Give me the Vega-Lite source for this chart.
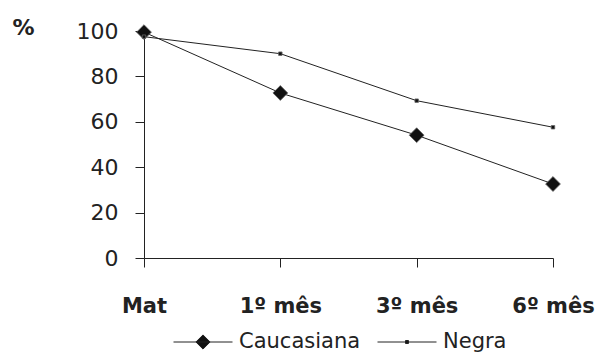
{
  "$schema": "https://vega.github.io/schema/vega-lite/v6.json",
  "width": 409,
  "height": 227,
  "autosize": {"type": "none"},
  "padding": {"left": 144, "top": 31, "right": 45, "bottom": 95},
  "background": "white",
  "config": {
    "view": {"stroke": null},
    "font": "DejaVu Sans",
    "axis": {"grid": false, "domainColor": "#222", "tickColor": "#222", "labelColor": "#222", "tickSize": 9, "domainWidth": 1, "tickWidth": 1}
  },
  "data": {
    "values": [
      {"period": "Mat", "series": "Caucasiana", "value": 99.5},
      {"period": "1º mês", "series": "Caucasiana", "value": 72.7},
      {"period": "3º mês", "series": "Caucasiana", "value": 54.1},
      {"period": "6º mês", "series": "Caucasiana", "value": 32.6},
      {"period": "Mat", "series": "Negra", "value": 97.5},
      {"period": "1º mês", "series": "Negra", "value": 90.0},
      {"period": "3º mês", "series": "Negra", "value": 69.3},
      {"period": "6º mês", "series": "Negra", "value": 57.6}
    ]
  },
  "encoding": {
    "x": {
      "field": "period", "type": "ordinal",
      "sort": ["Mat", "1º mês", "3º mês", "6º mês"],
      "scale": {"type": "point", "padding": 0},
      "axis": {"title": null, "labelAngle": 0, "labelFontSize": 21, "labelFontWeight": "bold", "labelPadding": 28}
    },
    "y": {
      "field": "value", "type": "quantitative",
      "scale": {"domain": [0, 100], "nice": false},
      "axis": {
        "values": [0, 20, 40, 60, 80, 100], "labelFontSize": 22, "labelPadding": 17,
        "title": "%", "titleAngle": 0, "titleX": -121, "titleY": -4,
        "titleFontSize": 22, "titleFontWeight": "bold", "titleAlign": "center", "titleBaseline": "middle", "titleColor": "#222"
      }
    }
  },
  "layer": [
    {
      "mark": {"type": "line", "strokeWidth": 1},
      "encoding": {
        "color": {
          "field": "series", "type": "nominal",
          "scale": {"domain": ["Caucasiana", "Negra"], "range": ["#222", "#222"]},
          "legend": {
            "orient": "none", "direction": "horizontal", "title": null,
            "legendX": 29, "legendY": 281,
            "labelFontSize": 21, "labelColor": "#222", "labelOffset": 6, "columnPadding": 14,
            "symbolSize": 3481,
            "encode": {
              "symbols": {
                "update": {
                  "shape": {"signal": "datum.value === 'Caucasiana' ? 'M-1,0H1M0,-0.24L0.24,0L0,0.24L-0.24,0Z' : 'M-1,0H1M-0.05,-0.05H0.05V0.05H-0.05Z'"},
                  "size": {"value": 3481},
                  "fill": {"value": "#111"},
                  "stroke": {"value": "#222"},
                  "strokeWidth": {"value": 1}
                }
              }
            }
          }
        }
      }
    },
    {
      "mark": {"type": "point", "filled": true, "color": "#111", "opacity": 1, "stroke": "#666", "strokeWidth": 0.8},
      "encoding": {
        "shape": {
          "condition": {"test": "datum.series === 'Negra'", "value": "square"},
          "value": "diamond"
        },
        "size": {
          "condition": {"test": "datum.series === 'Negra'", "value": 12},
          "value": 220
        }
      }
    }
  ]
}
